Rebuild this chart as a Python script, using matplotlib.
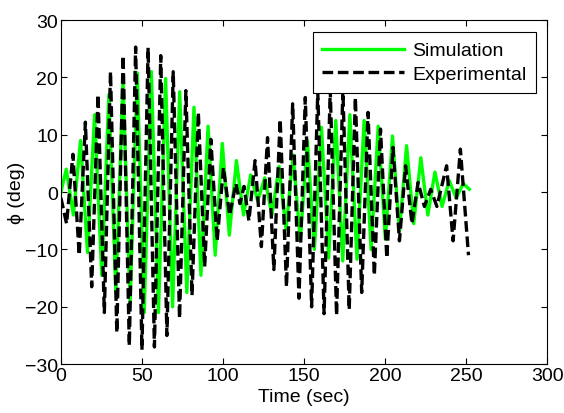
import matplotlib
matplotlib.use("Agg")
import matplotlib.pyplot as plt

plt.rcParams['font.family'] = ['Liberation Sans', 'DejaVu Sans']

# Simulation: turning points (time in s, roll angle in deg)
sim_t = [0.0, 3.3, 7.7, 12.1, 16.4, 20.8, 25.2, 29.6, 33.9, 38.3, 42.7, 47.1,
         51.4, 55.8, 60.2, 64.6, 68.9, 73.3, 77.7, 82.1, 86.4, 90.8, 95.2,
         99.6, 103.9, 108.3, 112.7, 117.1, 121.4, 125.8, 130.2, 134.6, 138.9,
         143.3, 147.7, 152.1, 156.4, 160.8, 165.2, 169.6, 173.9, 178.3, 182.7,
         187.1, 191.4, 195.8, 200.2, 204.6, 208.9, 213.3, 217.7, 222.1, 226.4,
         230.8, 235.2, 239.6, 243.9, 248.3, 252.0]
sim_phi = [0.0, 4.0, -4.0, 9.0, -10.5, 13.5, -14.5, 17.0, -17.5, 19.5, -19.5,
           20.8, -21.0, 21.0, -21.0, 19.8, -20.0, 17.5, -17.5, 14.8, -14.5,
           11.5, -11.0, 8.5, -7.5, 5.5, -4.0, 3.0, -1.5, 2.5, -4.0, 4.5, -6.5,
           6.5, -8.5, 9.0, -10.0, 11.3, -11.5, 12.5, -12.0, 13.5, -11.7, 12.5,
           -10.0, 11.5, -8.2, 9.8, -6.8, 8.1, -5.5, 6.0, -4.0, 3.5, -2.5, 2.0,
           -1.0, 1.5, 0.5]

# Experimental: turning points
exp_t = [0.0, 3.5, 7.4, 11.3, 15.1, 19.0, 22.9, 26.8, 30.6, 34.5, 38.4, 42.2,
         46.1, 50.0, 53.8, 57.7, 61.6, 65.4, 69.3, 73.2, 77.1, 80.9, 84.8,
         88.7, 92.5, 96.4, 100.3, 104.1, 108.0, 110.5, 113.0, 116.0, 119.8,
         123.7, 127.5, 131.4, 135.3, 139.2, 143.0, 146.9, 150.8, 154.7, 158.5,
         162.4, 166.2, 170.1, 174.0, 177.9, 181.7, 185.6, 189.5, 193.4, 197.2,
         201.1, 204.9, 208.9, 212.7, 216.6, 220.4, 224.3, 228.2, 232.0, 238.0,
         242.0, 246.5, 251.5]
exp_phi = [-1.0, -5.5, 6.6, -11.0, 12.2, -16.5, 17.0, -21.0, 21.0, -24.5, 23.8,
           -26.8, 25.3, -27.5, 25.2, -27.0, 23.8, -25.0, 21.0, -22.0, 17.7,
           -18.0, 13.9, -13.0, 9.2, -8.5, 4.3, -4.0, 1.5, -2.0, 1.0, -5.0, 5.5,
           -9.5, 9.5, -13.5, 12.7, -16.5, 15.4, -18.5, 16.5, -20.0, 17.5,
           -21.2, 17.8, -21.5, 17.8, -20.5, 16.5, -17.5, 13.9, -14.5, 11.0,
           -11.5, 7.8, -8.5, 4.6, -5.5, 1.7, -2.5, 0.5, -2.5, 4.6, -8.5, 7.5,
           -11.0]

fig = plt.figure(figsize=(5.64, 4.14), dpi=100)
ax = fig.add_axes([0.108, 0.118, 0.862, 0.831])

ax.plot(sim_t, sim_phi, color='#00ff00', lw=2.4, label='Simulation')
ax.plot(exp_t, exp_phi, color='black', lw=2.4, linestyle=(0, (3.2, 1.4)),
        label='Experimental')

ax.set_xlim(0, 300)
ax.set_ylim(-30, 30)
ax.set_xticks(range(0, 301, 50))
ax.set_yticks(range(-30, 31, 10))
ax.tick_params(direction='in', top=True, right=True, length=4, width=0.8,
               labelsize=14, pad=2)
for s in ax.spines.values():
    s.set_linewidth(0.8)

ax.set_xlabel('Time (sec)', fontsize=14, labelpad=3)
ax.set_ylabel('ϕ (deg)', fontsize=14, labelpad=0)

leg = ax.legend(loc='upper right', bbox_to_anchor=(0.977, 0.965), fontsize=14,
                fancybox=False, edgecolor='black', framealpha=1,
                handlelength=4.2, borderpad=0.5, labelspacing=0.3,
                handletextpad=0.4, borderaxespad=0)
leg.get_frame().set_linewidth(0.8)

fig.savefig('out.png', dpi=100)
